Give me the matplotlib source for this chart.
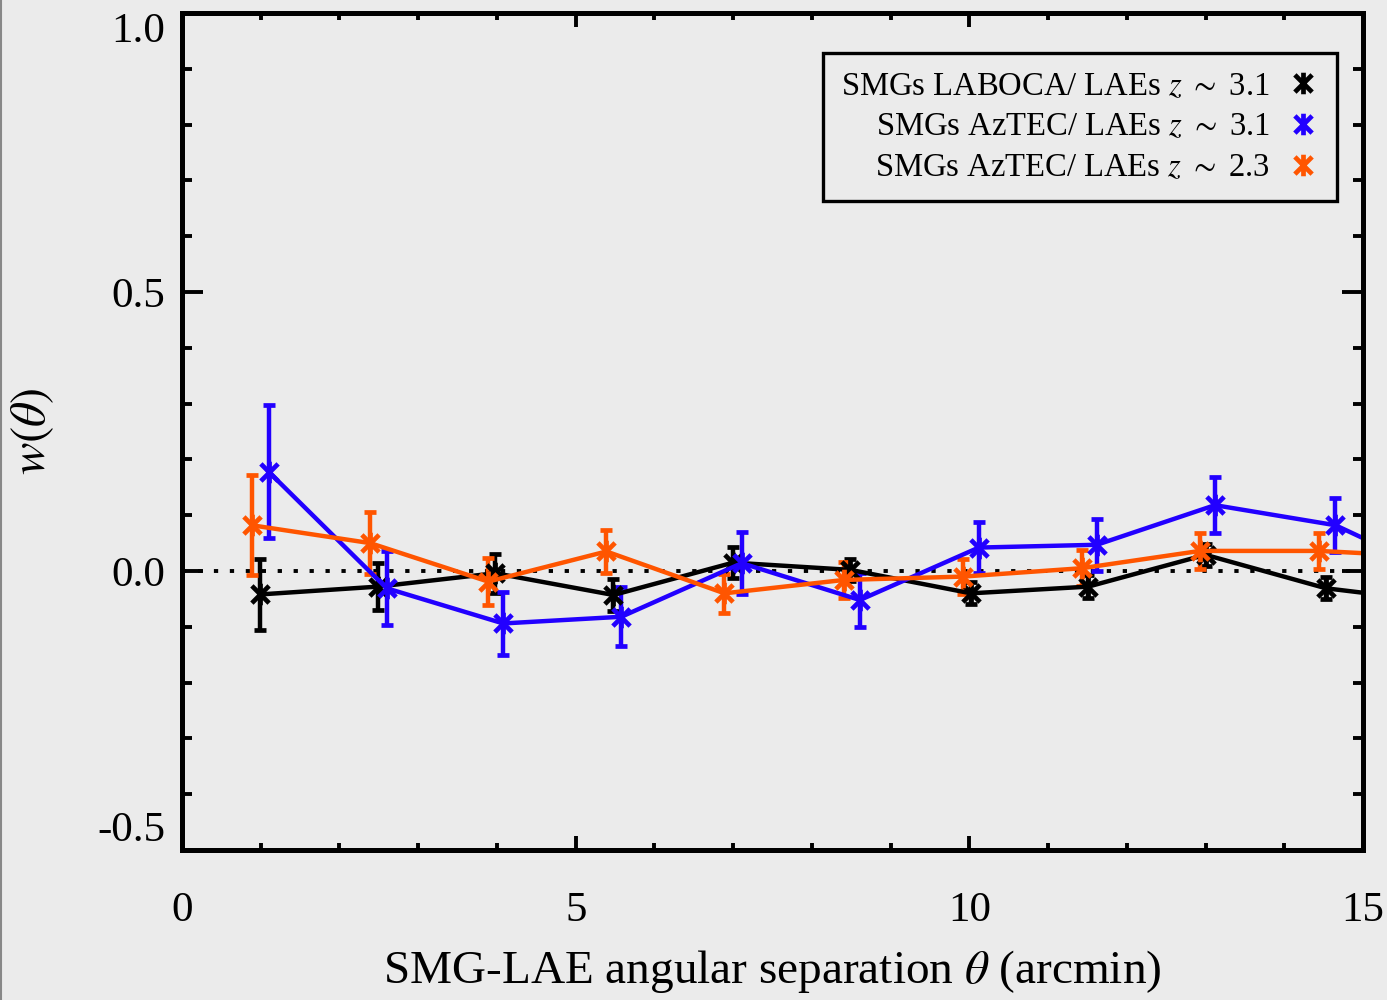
import matplotlib
matplotlib.use("Agg")
import matplotlib.pyplot as plt
from matplotlib.lines import Line2D
from matplotlib.path import Path
from matplotlib.ticker import MultipleLocator, FixedLocator

plt.rcParams['font.family'] = ['Liberation Serif', 'DejaVu Serif']
plt.rcParams['mathtext.fontset'] = 'stix'
plt.rcParams['axes.unicode_minus'] = False

# angular separation (arcmin) and w(theta) for each sample
theta_laboca = [0.99, 2.49, 3.98, 5.48, 7.00, 8.49, 10.02, 11.51, 13.00, 14.53, 16.00]
w_laboca = [-0.042, -0.028, -0.004, -0.043, 0.015, 0.002, -0.040, -0.028, 0.029, -0.031, -0.056]
err_laboca = [0.063, 0.042, 0.035, 0.028, 0.028, 0.020, 0.020, 0.020, 0.020, 0.020, 0.020]

theta_aztec31 = [1.10, 2.60, 4.08, 5.58, 7.11, 8.61, 10.12, 11.62, 13.12, 14.65, 16.15]
w_aztec31 = [0.178, -0.031, -0.094, -0.082, 0.014, -0.052, 0.042, 0.047, 0.118, 0.082, -0.017]
err_aztec31 = [0.119, 0.066, 0.056, 0.053, 0.055, 0.048, 0.045, 0.047, 0.050, 0.048, 0.048]

theta_aztec23 = [0.885, 2.39, 3.89, 5.39, 6.89, 8.41, 9.92, 11.43, 12.93, 14.44, 15.95]
w_aztec23 = [0.082, 0.050, -0.019, 0.035, -0.040, -0.016, -0.010, 0.005, 0.036, 0.036, 0.025]
err_aztec23 = [0.090, 0.055, 0.042, 0.039, 0.035, 0.033, 0.032, 0.032, 0.032, 0.032, 0.032]

labels = [r'SMGs LABOCA/ LAEs $z$ $\sim$ 3.1',
          r'SMGs AzTEC/ LAEs $z$ $\sim$ 3.1',
          r'SMGs AzTEC/ LAEs $z$ $\sim$ 2.3']
colors = ['black', '#2200ff', '#ff5500']

bg = '#ebebeb'

# asterisk: vertical bar plus a cross
star = Path([(0, -1), (0, 1), (-0.8, -0.8), (0.8, 0.8), (-0.8, 0.8), (0.8, -0.8)],
            [Path.MOVETO, Path.LINETO, Path.MOVETO, Path.LINETO, Path.MOVETO, Path.LINETO])

fig = plt.figure(figsize=(13.87, 10), dpi=100, facecolor=bg)
ax = fig.add_axes([182/1387, 150/1000, 1181/1387, 837/1000], facecolor=bg)

ax.axhline(0, color='black', lw=2.8, linestyle=(0, (1.1, 3.0)), zorder=1)

series = [(theta_laboca, w_laboca, err_laboca),
          (theta_aztec31, w_aztec31, err_aztec31),
          (theta_aztec23, w_aztec23, err_aztec23)]
for (x, y, e), c in zip(series, colors):
    ax.errorbar(x, y, yerr=e, color=c, lw=3.2, elinewidth=3.2, capsize=4.6,
                capthick=3.2, marker=star, markersize=15.5, markeredgewidth=3.4,
                zorder=2)

ax.set_xlim(0, 15)
ax.set_ylim(-0.5, 1.0)
ax.xaxis.set_major_locator(FixedLocator([0, 5, 10, 15]))
ax.xaxis.set_minor_locator(MultipleLocator(1))
ax.yaxis.set_major_locator(FixedLocator([-0.5, 0.0, 0.5, 1.0]))
ax.yaxis.set_minor_locator(MultipleLocator(0.1))
ax.set_xticklabels(['0', '5', '10', '15'])
ax.set_yticklabels(['-0.5', '0.0', '0.5', '1.0'])

ax.tick_params(which='both', direction='in', top=True, right=True,
               width=2.8, color='black', labelsize=31)
ax.tick_params(axis='x', which='major', length=10, pad=30)
ax.tick_params(axis='x', which='minor', length=5)
ax.tick_params(axis='y', which='major', length=15, pad=12)
ax.tick_params(axis='y', which='minor', length=7.5)
yl = ax.get_yticklabels()
yl[0].set_verticalalignment('bottom')
yl[-1].set_verticalalignment('top')
for s in ax.spines.values():
    s.set_linewidth(3.6)

ax.set_xlabel(r'SMG-LAE angular separation $\theta$ (arcmin)', fontsize=34, labelpad=13)
ax.set_ylabel(r'$w(\theta)$', fontsize=35, labelpad=30)

handles = [Line2D([], [], linestyle='none', marker=star, markersize=15.5,
                  markeredgewidth=3.4, color=c) for c in colors]
leg = ax.legend(handles, labels, loc='upper right', bbox_to_anchor=(0.978, 0.952),
                borderaxespad=0, markerfirst=False, fontsize=23.5, frameon=True,
                fancybox=False, edgecolor='black', facecolor=bg, framealpha=1,
                handlelength=1.0, handletextpad=0.5, labelspacing=0.32,
                borderpad=0.55)
leg.get_frame().set_linewidth(2.4)

fig.add_artist(Line2D([0.001, 0.001], [0, 1], color='#888888', lw=1.5))

fig.savefig('out.png', dpi=100, facecolor=bg)
